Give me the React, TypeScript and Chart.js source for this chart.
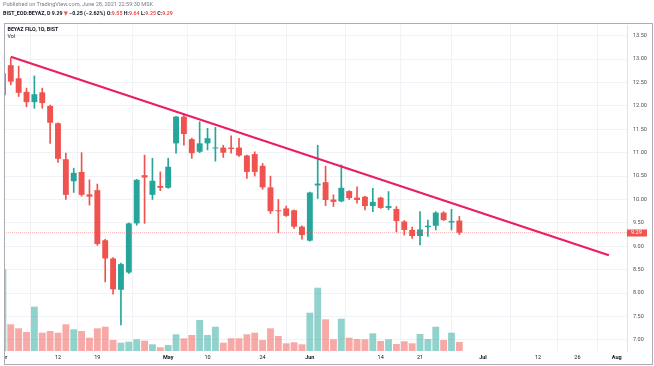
import React, { useEffect, useRef } from "react";
import { Chart, registerables } from "chart.js";

Chart.register(...registerables);

// ---- DATA (BIST:BEYAZ daily, Apr 1 – Jun 28 2021; index = trading day) ----
const opens = [
  12.23, 12.87, 12.59, 12.3, 12.08, 12.29, 12.0, 11.63, 10.86, 10.39,
  10.59, 10.11, 10.2, 9.13, 8.74, 8.07, 8.44, 9.49, 10.52, 10.1,
  10.29, 10.25, 11.2, 11.77, 11.29, 11.02, 11.2, 11.09, 11.11, 11.11,
  11.11, 10.94, 10.97, 10.72, 10.26, 9.77, 9.81, 9.77, 9.42, 9.12,
  10.3, 10.37, 10.0, 9.96, 10.18, 10.04, 10.06, 9.86, 10.04, 9.82,
  9.8, 9.53, 9.35, 9.22, 9.41, 9.44, 9.72, 9.51, 9.55,
];
const highs = [
  12.8, 13.03, 12.85, 12.38, 12.64, 12.38, 12.02, 11.64, 10.99, 10.67,
  11.0, 10.42, 10.33, 9.15, 8.76, 8.64, 9.5, 10.43, 10.95, 10.88,
  10.59, 10.88, 11.78, 11.81, 11.31, 11.66, 11.52, 11.54, 11.16, 11.36,
  11.31, 10.95, 11.02, 10.77, 10.5, 10.0, 9.86, 9.78, 9.44, 10.16,
  11.16, 10.71, 10.1, 10.74, 10.19, 10.27, 10.07, 10.24, 10.05, 10.17,
  9.85, 9.55, 9.41, 9.74, 9.56, 9.74, 9.74, 9.79, 9.64,
];
const lows = [
  12.18, 12.45, 12.2, 11.98, 11.95, 11.95, 11.2, 10.79, 10.0, 10.15,
  10.07, 9.88, 9.02, 8.24, 7.98, 7.32, 8.42, 9.45, 9.49, 10.0,
  10.19, 10.24, 10.99, 11.16, 10.88, 11.0, 11.06, 10.82, 10.9, 10.99,
  10.92, 10.45, 10.5, 10.22, 9.7, 9.29, 9.64, 9.38, 9.15, 9.11,
  10.02, 9.87, 9.85, 9.95, 10.0, 9.92, 9.78, 9.74, 9.81, 9.78,
  9.31, 9.24, 9.17, 9.03, 9.21, 9.35, 9.55, 9.35, 9.25,
];
const closes = [
  12.7, 12.52, 12.28, 12.08, 12.25, 12.06, 11.64, 10.87, 10.1, 10.57,
  10.1, 10.06, 9.05, 8.74, 8.08, 8.62, 9.49, 10.42, 10.47, 10.4,
  10.25, 10.7, 11.77, 11.4, 10.99, 11.2, 11.31, 11.11, 11.0, 11.08,
  10.94, 10.59, 10.59, 10.26, 9.75, 9.75, 9.65, 9.42, 9.24, 10.15,
  10.34, 9.99, 9.95, 10.25, 10.03, 9.99, 9.86, 9.95, 9.82, 9.86,
  9.54, 9.35, 9.22, 9.36, 9.44, 9.72, 9.56, 9.54, 9.29,
];
const volumes = [
  817, 267, 227, 190, 443, 183, 200, 183, 267, 217,
  200, 133, 227, 243, 110, 83, 93, 117, 103, 67,
  37, 60, 167, 127, 160, 310, 160, 243, 83, 127,
  127, 167, 183, 110, 227, 150, 77, 87, 67, 383,
  633, 317, 117, 323, 133, 120, 117, 177, 100, 117,
  70, 97, 77, 170, 120, 243, 110, 183, 90,
];

// time axis ticks (trading-day index incl. future days) and their labels
const xTickIndex = [0, 7, 12, 21, 26, 33, 39, 48, 53, 61, 68, 73, 78];
const xTickLabels = ["Apr", "12", "19", "May", "10", "24", "Jun", "14", "21", "Jul", "12", "26", "Aug"];
const xTickIsMonth = [true, false, false, true, false, false, true, false, false, true, false, false, true];

const priceTicks = [7, 7.5, 8, 8.5, 9, 9.5, 10, 10.5, 11, 11.5, 12, 12.5, 13, 13.5];

// drawn trend line (index, price)
const trendX = [1, 77];
const trendY = [13.05, 8.81];

const headerLine1 = "Published on TradingView.com, June 28, 2021 22:59:30 MSK";
const symbolText = "BIST_EOD:BEYAZ, D";
const legendTitle = "BEYAZ FILO, 1D, BIST";
const legendVol = "Vol";

// ---- STYLE ----
const FONT = "Roboto, 'DejaVu Sans', sans-serif";
const UP = "#26a69a";
const DOWN = "#ef5350";
const UP_VOL = "rgba(38,166,154,0.5)";
const DOWN_VOL = "rgba(239,83,80,0.5)";
const X_MIN = 0.14;
const X_MAX = 79.3;
const Y_MIN = 6.763;
const Y_MAX = 13.729;

const fmtSigned = (v: number, d: number) => (v < 0 ? "\u2212" : "+") + Math.abs(v).toFixed(d);

const decorPlugin = {
  id: "decor",
  beforeDraw(chart: any) {
    const { ctx, width, height } = chart;
    ctx.save();
    ctx.fillStyle = "#ffffff";
    ctx.fillRect(0, 0, width, height);
    ctx.restore();
  },
  afterDraw(chart: any) {
    const { ctx, chartArea } = chart;
    const yScale = chart.scales.y;
    const n = closes.length;
    const last = closes[n - 1];
    const prev = closes[n - 2];
    ctx.save();
    // pane clip on the left
    ctx.fillStyle = "#ffffff";
    ctx.fillRect(0, 23, 4, 343);

    // last price label
    const py = yScale.getPixelForValue(last);
    ctx.fillStyle = DOWN;
    ctx.fillRect(chartArea.right, Math.round(py) - 3.5, 20, 7);
    ctx.fillStyle = "#ffffff";
    ctx.font = `5.5px ${FONT}`;
    ctx.textBaseline = "middle";
    ctx.textAlign = "left";
    ctx.fillText(last.toFixed(2), chartArea.right + 4, Math.round(py));

    // pane border
    ctx.strokeStyle = "#a9acb3";
    ctx.lineWidth = 1;
    ctx.strokeRect(4.5, 23.5, 648, 341);

    // header
    ctx.textAlign = "left";
    ctx.fillStyle = "#787b86";
    ctx.font = `5.6px ${FONT}`;
    ctx.fillText(headerLine1, 3, 5);

    const chg = last - prev;
    const pct = (chg / prev) * 100;
    const dark = "#131722";
    const segs: [string, string][] = [
      [`${symbolText} ${last.toFixed(2)} `, dark],
      [chg < 0 ? "\u25BC" : "\u25B2", chg < 0 ? DOWN : UP],
      [` ${fmtSigned(chg, 2)} (${fmtSigned(pct, 2)}%) `, dark],
      ["O:", dark],
      [opens[n - 1].toFixed(2), DOWN],
      [" H:", dark],
      [highs[n - 1].toFixed(2), DOWN],
      [" L:", dark],
      [lows[n - 1].toFixed(2), DOWN],
      [" C:", dark],
      [closes[n - 1].toFixed(2), DOWN],
    ];
    ctx.font = `bold 5.3px ${FONT}`;
    let x = 3;
    for (const [t, c] of segs) {
      ctx.fillStyle = c;
      ctx.fillText(t, x, 14);
      x += ctx.measureText(t).width;
    }

    // pane legend
    ctx.fillStyle = dark;
    ctx.font = `bold 5.3px ${FONT}`;
    ctx.fillText(legendTitle, 7.5, 29.5);
    ctx.font = `5.3px ${FONT}`;
    ctx.fillText(legendVol, 7.5, 37);
    ctx.restore();
  },
};

export default function App() {
  const canvasRef = useRef<HTMLCanvasElement | null>(null);

  useEffect(() => {
    if (!canvasRef.current) return;
    const n = opens.length;
    const up = opens.map((o, i) => closes[i] >= o);
    const lastClose = closes[n - 1];

    const chart = new Chart(canvasRef.current, {
      type: "bar",
      data: {
        datasets: [
          {
            type: "line",
            data: trendX.map((x, i) => ({ x, y: trendY[i] })),
            borderColor: "#e91e63",
            borderWidth: 2.2,
            pointRadius: 0,
            yAxisID: "y",
            order: 0,
          } as any,
          {
            type: "line",
            data: [
              { x: X_MIN, y: lastClose },
              { x: X_MAX, y: lastClose },
            ],
            borderColor: "rgba(239,83,80,0.45)",
            borderWidth: 1,
            borderDash: [1, 1],
            pointRadius: 0,
            yAxisID: "y",
            order: 1,
          } as any,
          {
            type: "bar",
            data: opens.map((o, i) => ({ x: i, y: [o, closes[i]] })),
            backgroundColor: up.map((u) => (u ? UP : DOWN)),
            barPercentage: 0.75,
            categoryPercentage: 1,
            grouped: false,
            minBarLength: 1,
            yAxisID: "y",
            order: 2,
          } as any,
          {
            type: "bar",
            data: lows.map((l, i) => ({ x: i, y: [l, highs[i]] })),
            backgroundColor: up.map((u) => (u ? UP : DOWN)),
            barPercentage: 1,
            categoryPercentage: 1,
            maxBarThickness: 1,
            grouped: false,
            yAxisID: "y",
            order: 3,
          } as any,
          {
            type: "bar",
            data: volumes.map((v, i) => ({ x: i, y: v })),
            backgroundColor: up.map((u) => (u ? UP_VOL : DOWN_VOL)),
            barPercentage: 0.87,
            categoryPercentage: 1,
            grouped: false,
            yAxisID: "yv",
            order: 4,
          } as any,
        ],
      },
      options: {
        animation: false,
        responsive: true,
        maintainAspectRatio: false,
        layout: { padding: { left: 4, top: 25, right: 0, bottom: 0 } },
        plugins: {
          legend: { display: false },
          tooltip: { enabled: false },
        },
        scales: {
          x: {
            type: "linear",
            min: X_MIN,
            max: X_MAX,
            offset: false,
            afterBuildTicks: (scale: any) => {
              scale.ticks = xTickIndex.map((v) => ({ value: v }));
            },
            afterFit: (scale: any) => {
              scale.height = 15;
              scale.paddingLeft = 0;
              scale.paddingRight = 0;
            },
            grid: { color: "#f0f2f7", drawTicks: false },
            border: { display: false },
            ticks: {
              autoSkip: false,
              maxRotation: 0,
              padding: 3,
              color: "#131722",
              font: (ctx: any) => ({
                family: FONT,
                size: 5.5,
                weight: xTickIsMonth[ctx.index] ? "bold" : "normal",
              }),
              callback: (_v: any, i: number) => xTickLabels[i],
            },
          },
          y: {
            type: "linear",
            position: "right",
            min: Y_MIN,
            max: Y_MAX,
            afterBuildTicks: (scale: any) => {
              scale.ticks = priceTicks.map((v) => ({ value: v }));
            },
            afterFit: (scale: any) => {
              scale.width = 27;
              scale.paddingTop = 0;
              scale.paddingBottom = 0;
            },
            grid: { color: "#f0f2f7", drawTicks: false },
            border: { display: true, color: "#e0e3eb" },
            ticks: {
              padding: 6,
              color: "#4a4d57",
              font: { family: FONT, size: 5.5 },
              callback: (v: any) => Number(v).toFixed(2),
            },
          },
          yv: {
            type: "linear",
            display: false,
            min: 0,
            max: 3260,
          },
        },
      } as any,
      plugins: [decorPlugin],
    });
    return () => chart.destroy();
  }, []);

  return (
    <div style={{ position: "fixed", left: 0, top: 0, width: 654, height: 366, background: "#fff" }}>
      <canvas ref={canvasRef} />
    </div>
  );
}
